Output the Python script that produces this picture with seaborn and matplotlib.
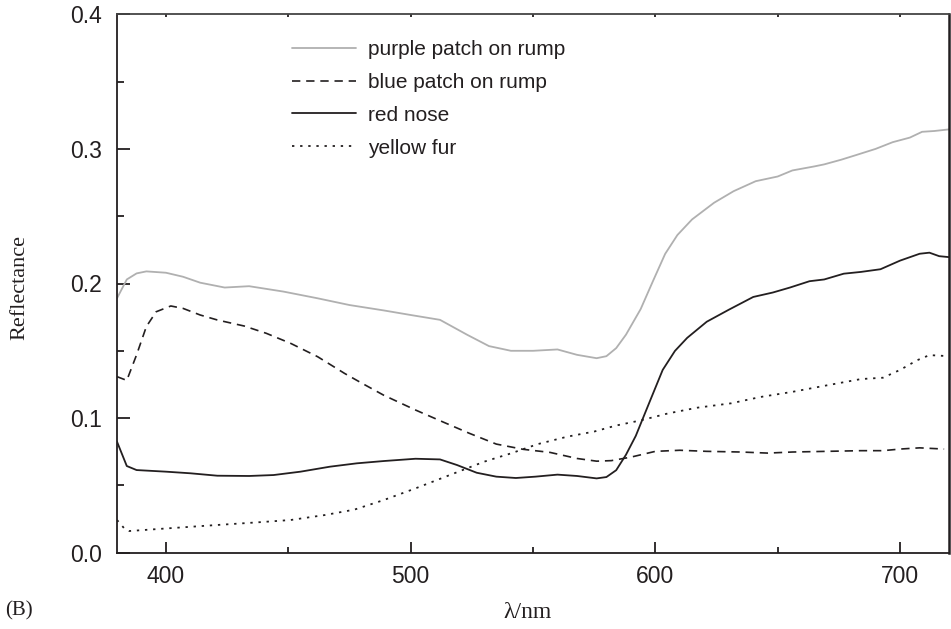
import matplotlib
matplotlib.use("Agg")
import matplotlib.pyplot as plt
import seaborn as sns
import pandas as pd
from matplotlib.ticker import MultipleLocator
from matplotlib.lines import Line2D

# ---------------- data ----------------
purple_wl = [380, 384, 388, 392, 400, 407, 414, 424, 434, 448, 462, 475, 489, 500,
             512, 523, 532, 541, 550, 560, 568, 576, 580, 584, 588, 594, 599, 604,
             609, 615, 624, 632, 641, 650, 656, 665, 669, 676, 682, 690, 697, 704,
             709, 714, 720]
purple_r = [0.189, 0.203, 0.2075, 0.209, 0.208, 0.205, 0.2006, 0.197, 0.198, 0.194,
            0.189, 0.184, 0.180, 0.1766, 0.173, 0.162, 0.1535, 0.150, 0.150, 0.151,
            0.147, 0.1445, 0.146, 0.152, 0.162, 0.181, 0.2017, 0.222, 0.236, 0.2476,
            0.260, 0.2686, 0.276, 0.2795, 0.284, 0.287, 0.2885, 0.292, 0.2954, 0.300,
            0.305, 0.3084, 0.3127, 0.3133, 0.3145]

blue_wl = [380, 384, 388, 392, 396, 402, 407, 414, 421, 432, 441, 451, 462, 473,
           480, 489, 502, 513, 524, 535, 546, 557, 568, 576, 582, 590, 600, 610,
           621, 635, 646, 656, 670, 684, 693, 700, 708, 718]
blue_r = [0.1308, 0.128, 0.147, 0.168, 0.179, 0.1833, 0.1815, 0.1766, 0.1729, 0.1684,
          0.163, 0.1555, 0.1456, 0.1332, 0.126, 0.117, 0.106, 0.0973, 0.0887, 0.0807,
          0.0768, 0.0745, 0.070, 0.068, 0.0684, 0.071, 0.0753, 0.0761, 0.0753, 0.0748,
          0.074, 0.0748, 0.0753, 0.0758, 0.0758, 0.077, 0.0779, 0.077]

red_wl = [380, 384, 388, 400, 410, 421, 434, 444, 455, 467, 478, 489, 502, 512, 519,
          527, 535, 543, 551, 560, 568, 576, 580, 584, 588, 592, 598, 603, 608, 613,
          621, 630, 640, 648, 655, 663, 669, 677, 684, 692, 700, 708, 712, 716, 720]
red_r = [0.0825, 0.0644, 0.0614, 0.0602, 0.059, 0.0572, 0.057, 0.0577, 0.0602, 0.0639,
         0.0664, 0.0681, 0.0698, 0.0693, 0.0651, 0.0594, 0.0565, 0.0555, 0.0565, 0.058,
         0.057, 0.0552, 0.0562, 0.0613, 0.0728, 0.0868, 0.1136, 0.1358, 0.1499, 0.1596,
         0.1716, 0.1805, 0.190, 0.1933, 0.197, 0.2017, 0.203, 0.2073, 0.2086, 0.2106,
         0.217, 0.2221, 0.2229, 0.2203, 0.2196]

yellow_wl = [380, 383, 385, 400, 421, 437, 451, 465, 477, 489, 502, 516, 530, 541, 552,
             564, 575, 584, 594, 605, 617, 631, 643, 656, 670, 684, 693, 700, 707, 712, 720]
yellow_r = [0.0243, 0.018, 0.0161, 0.018, 0.0206, 0.0225, 0.0243, 0.028, 0.032, 0.0391,
            0.0478, 0.0577, 0.0676, 0.0738, 0.0807, 0.0862, 0.090, 0.0945, 0.0983, 0.1034,
            0.1077, 0.111, 0.1157, 0.1195, 0.1243, 0.129, 0.130, 0.1358, 0.143, 0.1468, 0.146]

labels = ["purple patch on rump", "blue patch on rump", "red nose", "yellow fur"]
x_ticks = [400, 500, 600, 700]
y_ticks = [0.0, 0.1, 0.2, 0.3, 0.4]

# ---------------- styling ----------------
sns.set_theme(style="white")
plt.rcParams["font.family"] = ["Liberation Sans", "DejaVu Sans"]
ink = "#231f20"

fig = plt.figure(figsize=(9.51, 6.29), dpi=100)
ax = fig.add_axes([117 / 951, 76.3 / 629, 832 / 951, 538.4 / 629])

series = [
    (purple_wl, purple_r, "#b0b0b0", "-", 1.3),
    (blue_wl, blue_r, ink, (0, (5, 3.5)), 1.2),
    (red_wl, red_r, ink, "-", 1.3),
    (yellow_wl, yellow_r, ink, (0, (1.3, 3.2)), 1.3),
]
handles = []
for (wl, r, col, ls, lw), lab in zip(series, labels):
    df = pd.DataFrame({"wavelength": wl, "reflectance": r})
    sns.lineplot(data=df, x="wavelength", y="reflectance", ax=ax, color=col,
                 linestyle=ls, linewidth=lw, estimator=None, sort=True)
    handles.append(Line2D([], [], color=col, linestyle=ls, linewidth=lw, label=lab))

ax.set_xlim(380, 720)
ax.set_ylim(0, 0.4)
ax.set_xticks(x_ticks)
ax.set_yticks(y_ticks)
ax.set_xticklabels([str(v) for v in x_ticks])
ax.set_yticklabels([f"{v:.1f}" for v in y_ticks])
ax.xaxis.set_minor_locator(MultipleLocator(50))
ax.yaxis.set_minor_locator(MultipleLocator(0.05))

ax.tick_params(axis="y", which="major", direction="in", length=9, width=1.3,
               color=ink, labelsize=16.5, labelcolor=ink, pad=11, left=True)
ax.tick_params(axis="y", which="minor", direction="in", length=5, width=1.3,
               color=ink, left=True)
ax.tick_params(axis="x", which="major", direction="in", length=8, width=1.3,
               color=ink, labelsize=16.5, labelcolor=ink, pad=9, bottom=True)
ax.tick_params(axis="x", which="minor", direction="in", length=4.5, width=1.3,
               color=ink, bottom=True)

top = ax.secondary_xaxis("top")
top.set_xticks(x_ticks)
top.xaxis.set_minor_locator(MultipleLocator(50))
top.tick_params(which="both", direction="in", length=1.8, width=1.3, color=ink,
                labeltop=False, top=True)
top.spines["top"].set_visible(False)

for side in ["left", "right", "top", "bottom"]:
    ax.spines[side].set_visible(True)
    ax.spines[side].set_color(ink)
    ax.spines[side].set_linewidth(1.3)
ax.spines["right"].set_linewidth(1.8)
ax.spines["top"].set_color("#444444")

ax.set_xlabel("")
ax.set_ylabel("")
serif = ["Liberation Serif", "DejaVu Serif"]
fig.text(20 / 951, 1 - 287 / 629, "Reflectance", rotation=90, ha="center",
         va="center", fontsize=16, family=serif, color=ink)
fig.text(528 / 951, 1 - 613 / 629, "λ/nm", ha="center", va="center",
         fontsize=17, family=serif, color=ink)
fig.text(19 / 951, 1 - 611 / 629, "(B)", ha="center", va="center",
         fontsize=15, family=serif, color=ink)

leg = ax.legend(handles=handles, loc="upper left", bbox_to_anchor=(0.2, 0.968),
                frameon=False, fontsize=15, handlelength=3.1, handletextpad=0.55,
                labelspacing=0.67, borderaxespad=0)
for t in leg.get_texts():
    t.set_color(ink)

fig.savefig("out.png", dpi=100)
